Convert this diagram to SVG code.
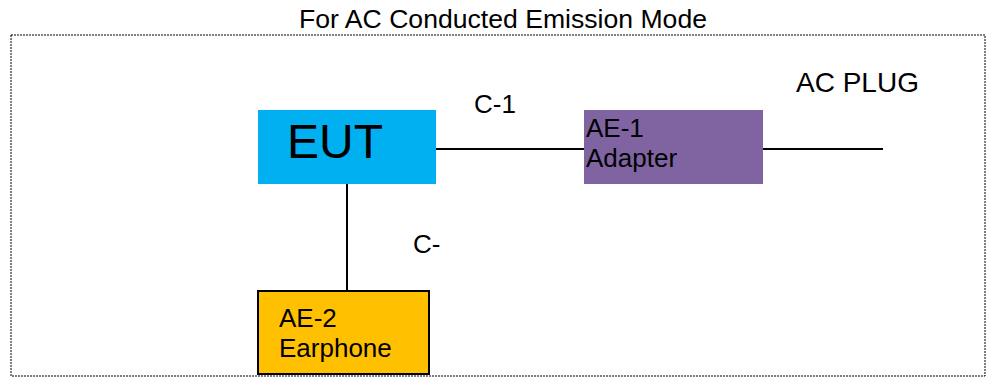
<svg xmlns="http://www.w3.org/2000/svg" width="986" height="378" viewBox="0 0 986 378">
<style>
text{font-family:"Liberation Sans",Arial,sans-serif;fill:#000}
.lbl{font-size:26px}
.ln{stroke:#000;stroke-width:2;fill:none}
</style>
<rect x="0" y="0" width="986" height="378" fill="#fff"/>
<g id="frame">
<rect x="11" y="35" width="974" height="341" fill="none" stroke="#000" stroke-width="1" stroke-dasharray="2,1"/>
<text x="503" y="28" font-size="26" text-anchor="middle" textLength="408" lengthAdjust="spacingAndGlyphs">For AC Conducted Emission Mode</text>
</g>
<g id="connectors">
<line class="ln" x1="436" y1="149" x2="584" y2="149"/>
<line class="ln" x1="763" y1="149" x2="883" y2="149"/>
<line class="ln" x1="347" y1="184" x2="347" y2="291"/>
<text class="lbl" x="474" y="113">C-1</text>
<text class="lbl" x="413" y="253">C-</text>
</g>
<g id="eut">
<rect x="258" y="110" width="178" height="74" fill="#00B0F0"/>
<text x="287" y="158" font-size="48">EUT</text>
</g>
<g id="adapter">
<rect x="584" y="110" width="179" height="74" fill="#8064A2"/>
<text class="lbl" x="586" y="137">AE-1</text>
<text class="lbl" x="586" y="167">Adapter</text>
</g>
<g id="acplug">
<text x="796" y="92" font-size="28">AC PLUG</text>
</g>
<g id="earphone">
<rect x="258" y="291" width="171" height="83" fill="#FFC000" stroke="#000" stroke-width="2"/>
<text class="lbl" x="279" y="327">AE-2</text>
<text class="lbl" x="279" y="357">Earphone</text>
</g>
</svg>
